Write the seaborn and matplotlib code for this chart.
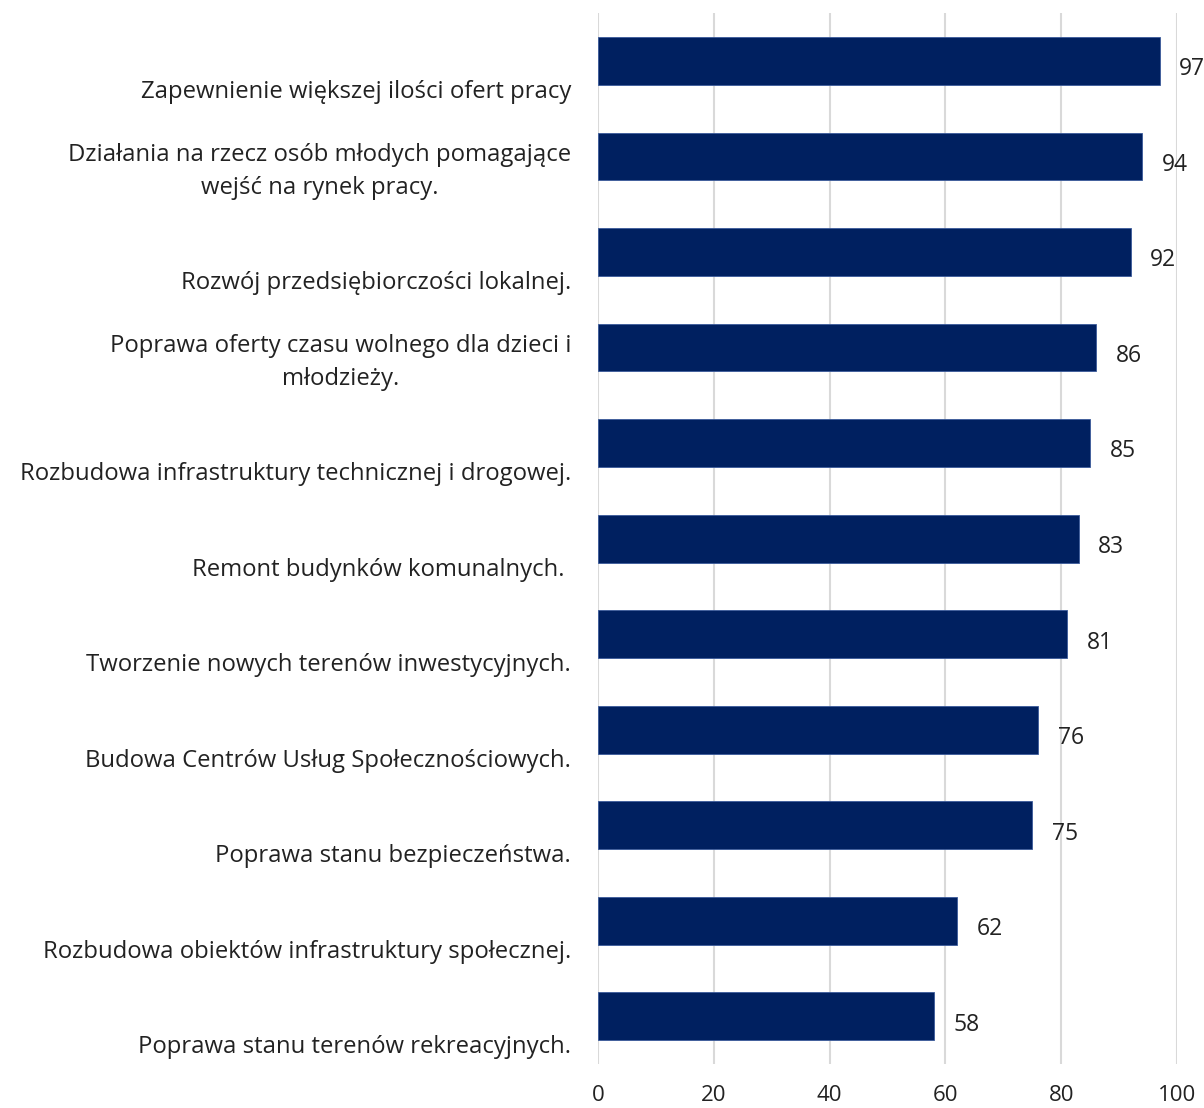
import matplotlib
matplotlib.use('Agg')
import matplotlib.pyplot as plt
import seaborn as sns
import pandas as pd

categories = [
    'Zapewnienie większej ilości ofert pracy',
    'Działania na rzecz osób młodych pomagające\nwejść na rynek pracy.',
    'Rozwój przedsiębiorczości lokalnej.',
    'Poprawa oferty czasu wolnego dla dzieci i\nmłodzieży.',
    'Rozbudowa infrastruktury technicznej i drogowej.',
    'Remont budynków komunalnych. ',
    'Tworzenie nowych terenów inwestycyjnych.',
    'Budowa Centrów Usług Społecznościowych.',
    'Poprawa stanu bezpieczeństwa.',
    'Rozbudowa obiektów infrastruktury społecznej.',
    'Poprawa stanu terenów rekreacyjnych.',
]
values = [97, 94, 92, 86, 85, 83, 81, 76, 75, 62, 58]
xticks = [0, 20, 40, 60, 80, 100]

sns.set_style('white')
plt.rcParams['font.family'] = ['Open Sans', 'DejaVu Sans']

df = pd.DataFrame({'label': categories, 'value': values})

fig = plt.figure(figsize=(12.04, 11.08), dpi=100)
ax = fig.add_axes([0.4967, 0.0397, 0.4809, 0.9483])

sns.barplot(data=df, x='value', y='label', orient='h', color='#002060',
            saturation=1, width=0.5, edgecolor='#3A5A9A', linewidth=0.6,
            ax=ax, zorder=3)

ax.set_xlim(0, 100)
ax.set_ylim(len(categories) - 0.5, -0.5)
ax.set_xticks(xticks)
ax.set_xticklabels([str(t) for t in xticks], fontsize=16, color='#222222')
ax.set_yticks([])
ax.set_xlabel('')
ax.set_ylabel('')
ax.tick_params(axis='x', length=0, pad=15)
ax.grid(axis='x', color='#D9D9D9', linewidth=1.5, zorder=0)
for s in ax.spines.values():
    s.set_visible(False)

labels = ax.bar_label(ax.containers[0], padding=14, fontsize=16.5, color='#222222')
for t in labels:
    t.xyann = (14, -6)

# category labels, sitting low relative to each bar as in the original
for i, lab in enumerate(categories):
    ax.annotate(lab, xy=(0, i + 0.45), xycoords=('axes fraction', 'data'),
                xytext=(-27, 0), textcoords='offset pixels',
                ha='right', va='bottom', multialignment='center',
                fontsize=17.2, color='#222222', linespacing=1.45)

fig.savefig('out.png', dpi=100)
